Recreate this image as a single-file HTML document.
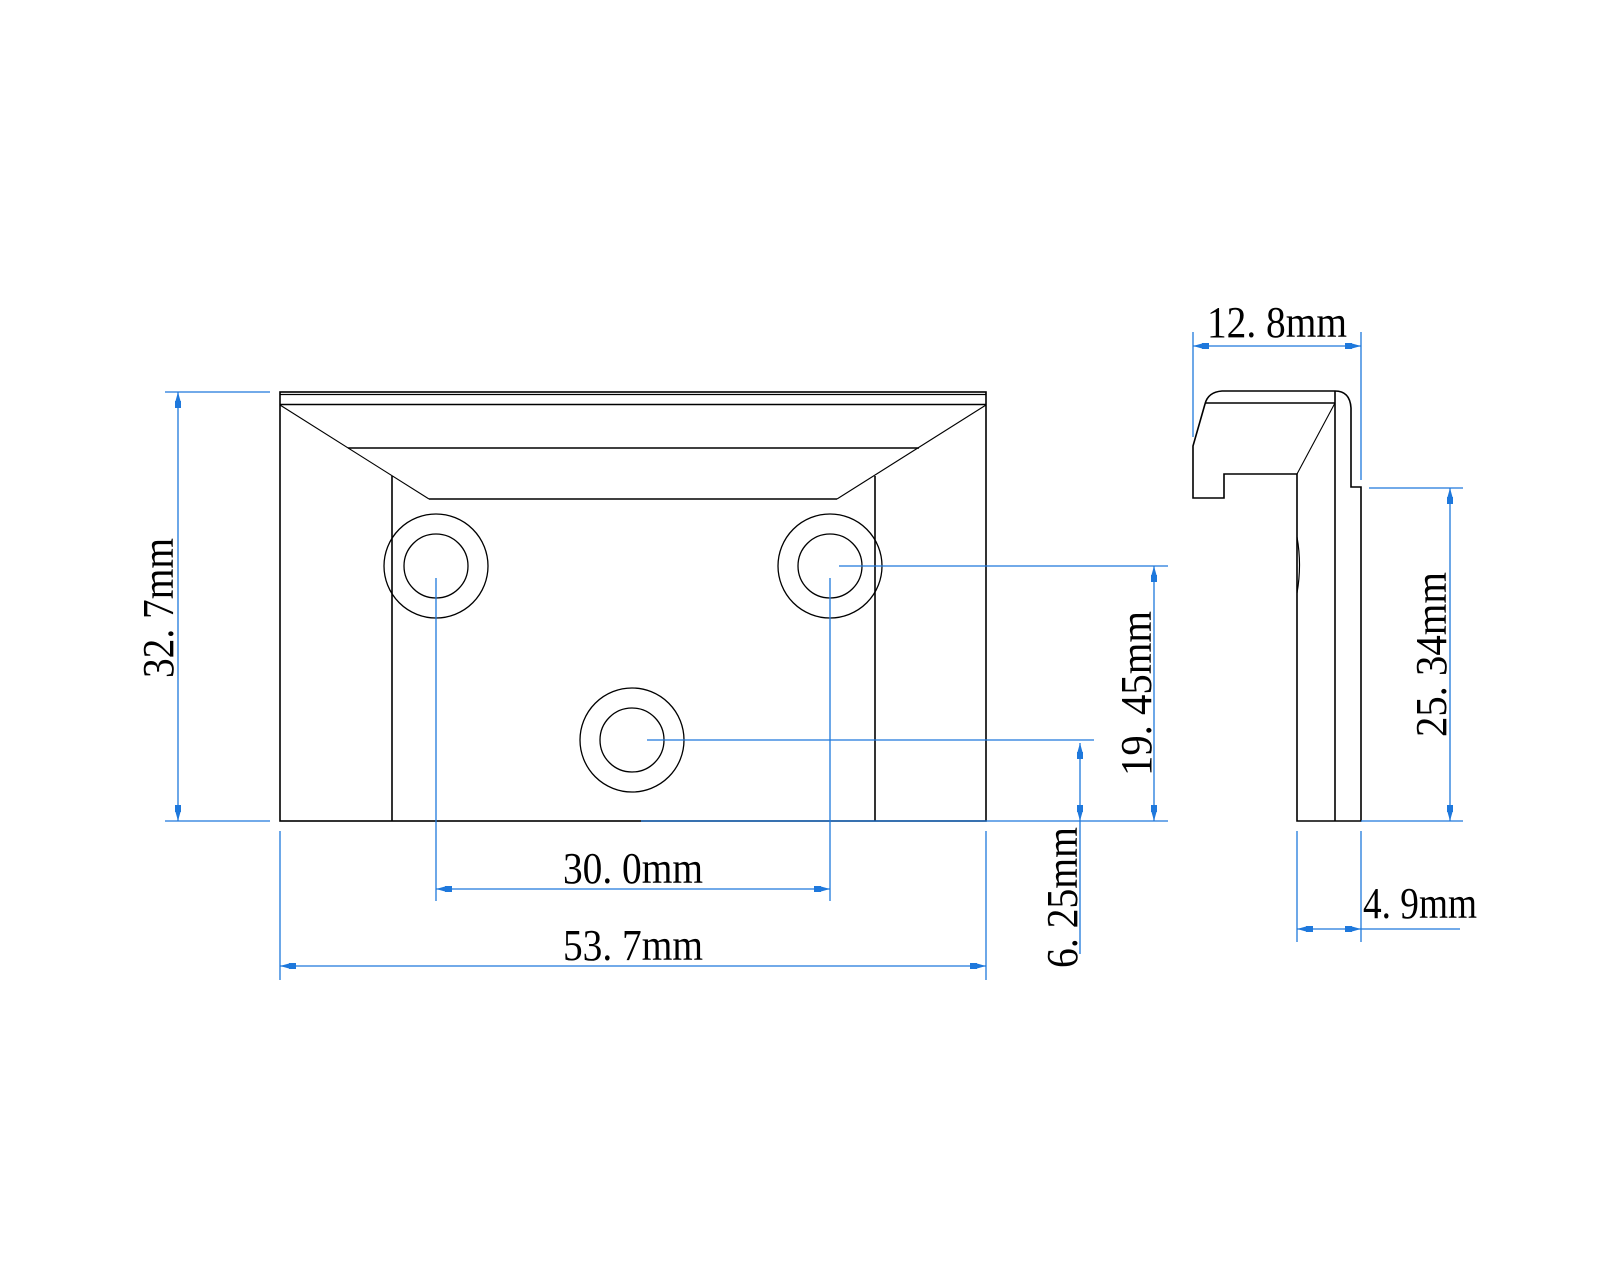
<!DOCTYPE html>
<html><head><meta charset="utf-8"><style>html,body{margin:0;padding:0;background:#fff}svg{display:block}</style></head>
<body>
<svg width="1600" height="1280" viewBox="0 0 1600 1280" xmlns="http://www.w3.org/2000/svg">
<defs>
<path id="ar" d="M0 0 L-2.5 9 L-3 9 L-3 16 L3 16 L3 9 L2.5 9 Z" fill="#1e78dc"/>
</defs>
<rect width="1600" height="1280" fill="#fff"/>
<!-- front view -->
<g fill="none" stroke="#000" stroke-width="1.6">
<rect x="280" y="392" width="706" height="429"/>
<line x1="280" y1="394.5" x2="986" y2="394.5" stroke-width="1.2"/>
<line x1="280" y1="404.5" x2="986" y2="404.5"/>
<line x1="348" y1="448" x2="919" y2="448"/>
<line x1="429" y1="499" x2="837" y2="499"/>
<line x1="392" y1="476" x2="392" y2="821"/>
<line x1="875" y1="476" x2="875" y2="821"/>
<circle cx="436" cy="566" r="52" stroke-width="1.3"/><circle cx="436" cy="566" r="32" stroke-width="1.3"/>
<circle cx="830" cy="566" r="52" stroke-width="1.3"/><circle cx="830" cy="566" r="32" stroke-width="1.3"/>
<circle cx="632" cy="740" r="52" stroke-width="1.3"/><circle cx="632" cy="740" r="32" stroke-width="1.3"/>
</g>
<g fill="none" stroke="#000" stroke-width="1.1">
<line x1="280" y1="405" x2="429" y2="499"/>
<line x1="986" y1="405" x2="837" y2="499"/>
</g>
<!-- side view -->
<g fill="none" stroke="#000" stroke-width="1.6">
<path d="M1193 446 L1205 404 Q1208 392 1222 391 L1335 391 Q1350 391 1351 408 L1351 487 L1361 487 L1361 821 L1297 821 L1297 474 L1224 474 L1224 498 L1193 498 Z"/>
<line x1="1205" y1="403" x2="1335" y2="403"/>
<line x1="1335" y1="391" x2="1335" y2="821"/>
<path d="M1297 537 Q1302 565 1297 593" stroke-width="1.2"/>
</g>
<line x1="1335" y1="403" x2="1297" y2="474" stroke="#000" stroke-width="1.1"/>
<!-- dimension lines -->
<g stroke="#1e78dc" stroke-width="1.3" fill="none">
<line x1="165" y1="392" x2="270" y2="392"/>
<line x1="165" y1="821" x2="270" y2="821"/>
<line x1="178" y1="392" x2="178" y2="821"/>
<line x1="436" y1="578" x2="436" y2="901"/>
<line x1="830" y1="578" x2="830" y2="901"/>
<line x1="436" y1="889" x2="830" y2="889"/>
<line x1="280" y1="831" x2="280" y2="980"/>
<line x1="986" y1="831" x2="986" y2="980"/>
<line x1="280" y1="966" x2="986" y2="966"/>
<line x1="839" y1="566" x2="1168" y2="566"/>
<line x1="641" y1="821" x2="1168" y2="821"/>
<line x1="1154" y1="566" x2="1154" y2="821"/>
<line x1="647" y1="740" x2="1094" y2="740"/>
<line x1="1080" y1="743" x2="1080" y2="954"/>
<line x1="1193" y1="332" x2="1193" y2="437"/>
<line x1="1361" y1="332" x2="1361" y2="480"/>
<line x1="1193" y1="346" x2="1361" y2="346"/>
<line x1="1369" y1="488" x2="1463" y2="488"/>
<line x1="1361" y1="821" x2="1463" y2="821"/>
<line x1="1450" y1="488" x2="1450" y2="821"/>
<line x1="1297" y1="831" x2="1297" y2="942"/>
<line x1="1361" y1="831" x2="1361" y2="942"/>
<line x1="1297" y1="929" x2="1460" y2="929"/>
</g>
<!-- arrows -->
<use href="#ar" transform="translate(178,392)"/>
<use href="#ar" transform="translate(178,821) rotate(180)"/>
<use href="#ar" transform="translate(436,889) rotate(-90)"/>
<use href="#ar" transform="translate(830,889) rotate(90)"/>
<use href="#ar" transform="translate(280,966) rotate(-90)"/>
<use href="#ar" transform="translate(986,966) rotate(90)"/>
<use href="#ar" transform="translate(1154,566)"/>
<use href="#ar" transform="translate(1154,821) rotate(180)"/>
<use href="#ar" transform="translate(1080,743)"/>
<use href="#ar" transform="translate(1080,821) rotate(180)"/>
<use href="#ar" transform="translate(1193,346) rotate(-90)"/>
<use href="#ar" transform="translate(1361,346) rotate(90)"/>
<use href="#ar" transform="translate(1450,488)"/>
<use href="#ar" transform="translate(1450,821) rotate(180)"/>
<use href="#ar" transform="translate(1297,929) rotate(-90)"/>
<use href="#ar" transform="translate(1361,929) rotate(90)"/>
<!-- labels -->
<g font-family="'Liberation Serif', serif" font-size="44" fill="#000" lengthAdjust="spacingAndGlyphs">
<text x="563" y="883" textLength="140" lengthAdjust="spacingAndGlyphs">30. 0mm</text>
<text x="563" y="960" textLength="140" lengthAdjust="spacingAndGlyphs">53. 7mm</text>
<text x="1207" y="337" textLength="140" lengthAdjust="spacingAndGlyphs">12. 8mm</text>
<text x="1363" y="918" textLength="114" lengthAdjust="spacingAndGlyphs">4. 9mm</text>
<text transform="translate(173,678) rotate(-90)" textLength="140" lengthAdjust="spacingAndGlyphs">32. 7mm</text>
<text transform="translate(1151,776) rotate(-90)" textLength="165" lengthAdjust="spacingAndGlyphs">19. 45mm</text>
<text transform="translate(1077,968) rotate(-90)" textLength="141" lengthAdjust="spacingAndGlyphs">6. 25mm</text>
<text transform="translate(1446,737) rotate(-90)" textLength="165" lengthAdjust="spacingAndGlyphs">25. 34mm</text>
</g>
</svg>
</body></html>
